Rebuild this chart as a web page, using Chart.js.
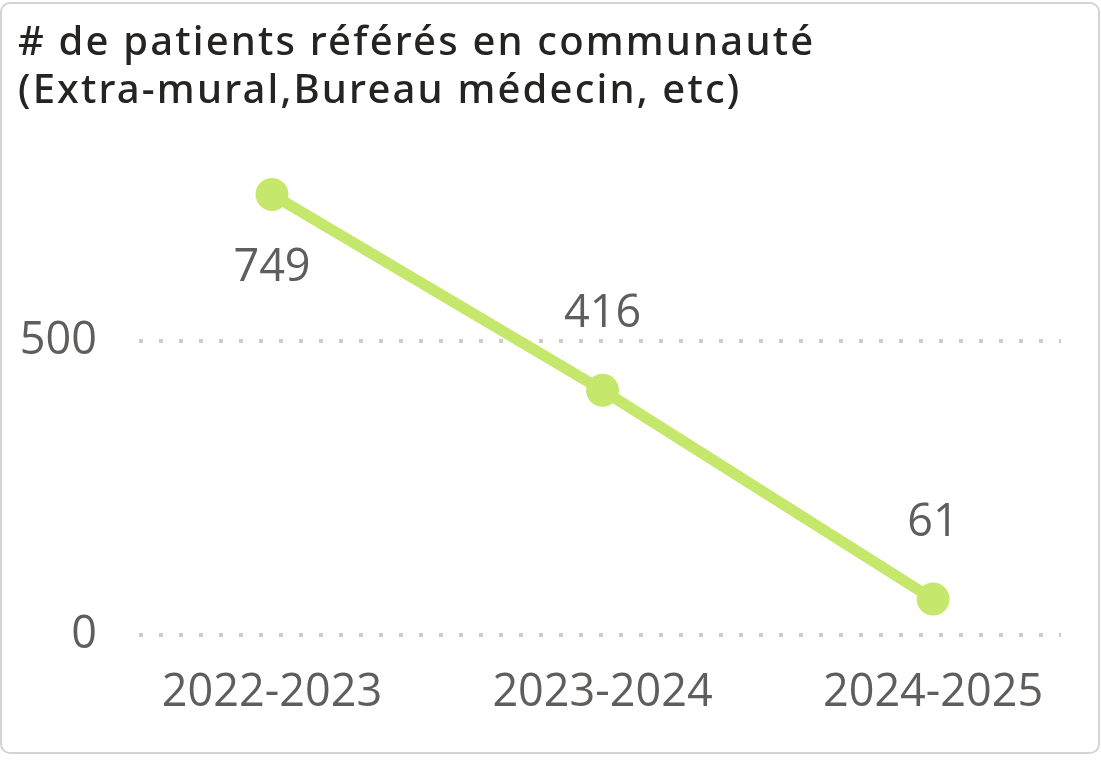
<!DOCTYPE html>
<html>
<head>
<meta charset="utf-8">
<script src="https://cdn.jsdelivr.net/npm/chart.js@4.4.1/dist/chart.umd.min.js"></script>
<style>
  body { margin: 0; background: #fff; }
  .card {
    position: absolute; left: 0; top: 2px; width: 1100px; height: 752px;
    box-sizing: border-box; border: 2px solid #d4d4d4; border-radius: 10px;
  }
  #lineChart { position: absolute; left: 0; top: 0; }
</style>
</head>
<body>
<div class="card"></div>
<canvas id="lineChart" width="1101" height="760"></canvas>
<script>
// chart data
const titleLines = ["# de patients référés en communauté", "(Extra-mural,Bureau médecin, etc)"];
const years = ["2022-2023", "2023-2024", "2024-2025"];
const patients = [749, 416, 61];
const yTicks = [0, 500];

const labelPos = ["below", "above", "above"];

// titre en haut à gauche
const titlePlugin = {
  id: "cardTitle",
  afterDraw(chart) {
    const c = chart.ctx;
    c.save();
    c.fillStyle = "#252423";
    c.font = "500 40px 'Noto Sans'";
    c.textBaseline = "alphabetic";
    c.textAlign = "left";
    // ajuster l'espacement pour garder la largeur du titre
    const w = c.measureText(titleLines[0]).width;
    c.letterSpacing = ((795 - w) / (titleLines[0].length - 1)).toFixed(2) + "px";
    c.fillText(titleLines[0], 18, 55);
    c.fillText(titleLines[1], 18, 103);
    c.restore();
  },
};

// étiquettes de données
const valuePlugin = {
  id: "valueLabels",
  afterDatasetsDraw(chart) {
    const c = chart.ctx;
    const meta = chart.getDatasetMeta(0);
    c.save();
    c.fillStyle = "#605e5c";
    c.font = "45px 'Open Sans'";
    c.textAlign = "center";
    c.textBaseline = "middle";
    meta.data.forEach((pt, i) => {
      const dy = labelPos[i] === "below" ? 74 : -76;
      c.fillText(String(patients[i]), pt.x, pt.y + dy);
    });
    c.restore();
  },
};

const ctx = document.getElementById("lineChart").getContext("2d");
const myChart = new Chart(ctx, {
  type: "line",
  data: {
    datasets: [
      {
        data: patients.map((v, i) => ({ x: i, y: v })),
        borderColor: "#c5e86c",
        backgroundColor: "#c5e86c",
        borderWidth: 11,
        pointRadius: 16.5,
        pointHoverRadius: 16.5,
        pointBorderWidth: 0,
        tension: 0,
      },
    ],
  },
  options: {
    responsive: false,
    animation: false,
    layout: {
      padding: { top: 135, right: 40, bottom: 48, left: 0 },
    },
    plugins: {
      legend: { display: false },
      tooltip: { enabled: false },
    },
    scales: {
      x: {
        type: "linear",
        min: -0.4024,
        max: 2.387,
        grid: { display: false },
        border: { display: false },
        afterBuildTicks: (scale) => {
          scale.ticks = years.map((_, i) => ({ value: i }));
        },
        afterFit: (scale) => {
          scale.height = 77;
        },
        ticks: {
          color: "#605e5c",
          font: { family: "'Open Sans'", size: 45 },
          padding: 23,
          maxRotation: 0,
          callback: (v) => years[v],
        },
      },
      y: {
        min: 0,
        max: 850,
        // lignes pointillées
        grid: {
          color: "#cccccc",
          lineWidth: 4,
          borderDash: [4, 16],
          drawTicks: false,
        },
        border: { display: false, dash: [4, 16] },
        afterBuildTicks: (scale) => {
          scale.ticks = yTicks.map((v) => ({ value: v }));
        },
        afterFit: (scale) => {
          scale.width = 139;
        },
        ticks: {
          color: "#605e5c",
          font: { family: "'Open Sans'", size: 45 },
          padding: 42,
        },
      },
    },
  },
  plugins: [titlePlugin, valuePlugin],
});
</script>
</body>
</html>
